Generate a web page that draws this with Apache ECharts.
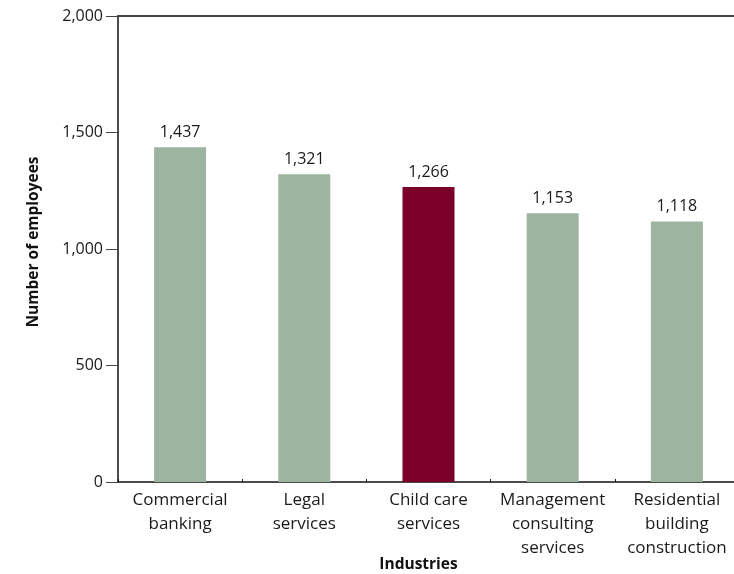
<!DOCTYPE html>
<html>
<head>
<meta charset="utf-8">
<script src="https://cdn.jsdelivr.net/npm/echarts@6/dist/echarts.min.js"></script>
<style>
  html, body { margin: 0; padding: 0; background: #fff; }
  #chart { width: 734px; height: 574px; }
</style>
</head>
<body>
<div id="chart"></div>
<script>
// Employee counts by industry
const industries = [
  'Commercial\nbanking',
  'Legal\nservices',
  'Child care\nservices',
  'Management\nconsulting\nservices',
  'Residential\nbuilding\nconstruction'
];
const employees = [1437, 1321, 1266, 1153, 1118];
const highlightIndex = 2;
const yTicks = [0, 500, 1000, 1500, 2000];

const FONT = '"Open Sans", "Noto Sans", sans-serif';
const GREEN = '#9db5a0';
const CRIMSON = '#7a0029';

const chart = echarts.init(document.getElementById('chart'), null, { renderer: 'canvas' });

chart.setOption({
  animation: false,
  textStyle: { fontFamily: FONT },
  grid: { left: 118, right: -5, top: 16, bottom: 92, containLabel: false, outerBoundsMode: 'none' },
  xAxis: [{
    type: 'category',
    data: industries,
    name: 'Industries',
    nameLocation: 'middle',
    nameGap: 75,
    nameMoveOverlap: false,
    nameTextStyle: { fontFamily: FONT, fontSize: 15.5, fontWeight: 'bold', color: '#111', padding: [0, 20, 0, 0] },
    axisLine: { lineStyle: { color: '#111', width: 1.5 } },
    axisTick: { show: true, inside: true, length: 3, lineStyle: { color: '#111' } },
    axisLabel: { interval: 0, fontFamily: FONT, fontSize: 17, color: '#1a1a1a', lineHeight: 24, margin: 6 }
  }, {
    type: 'category',
    data: industries,
    position: 'top',
    axisLine: { lineStyle: { color: '#444', width: 2 } },
    axisTick: { show: false },
    axisLabel: { show: false }
  }],
  yAxis: {
    type: 'value',
    min: yTicks[0],
    max: yTicks[yTicks.length - 1],
    interval: 500,
    name: 'Number of employees',
    nameLocation: 'middle',
    nameGap: 76,
    nameMoveOverlap: false,
    nameRotate: 90,
    nameTextStyle: { fontFamily: FONT, fontSize: 15.5, fontWeight: 'bold', color: '#111', padding: [0, 0, 0, 14] },
    axisLine: { show: true, lineStyle: { color: '#111', width: 1.5 } },
    axisTick: { show: true, length: 12, lineStyle: { color: '#444' } },
    splitLine: { show: false },
    axisLabel: {
      fontFamily: FONT, fontSize: 16, color: '#1a1a1a', margin: 15,
      formatter: v => v.toLocaleString('en-US')
    }
  },
  series: [{
    type: 'bar',
    barWidth: 52,
    data: employees.map((v, i) => ({
      value: v,
      itemStyle: { color: i === highlightIndex ? CRIMSON : GREEN }
    })),
    label: {
      show: true,
      position: 'top',
      distance: 7,
      fontFamily: FONT,
      fontSize: 16,
      color: '#1a1a1a',
      formatter: p => p.value.toLocaleString('en-US')
    }
  }]
});
</script>
</body>
</html>
